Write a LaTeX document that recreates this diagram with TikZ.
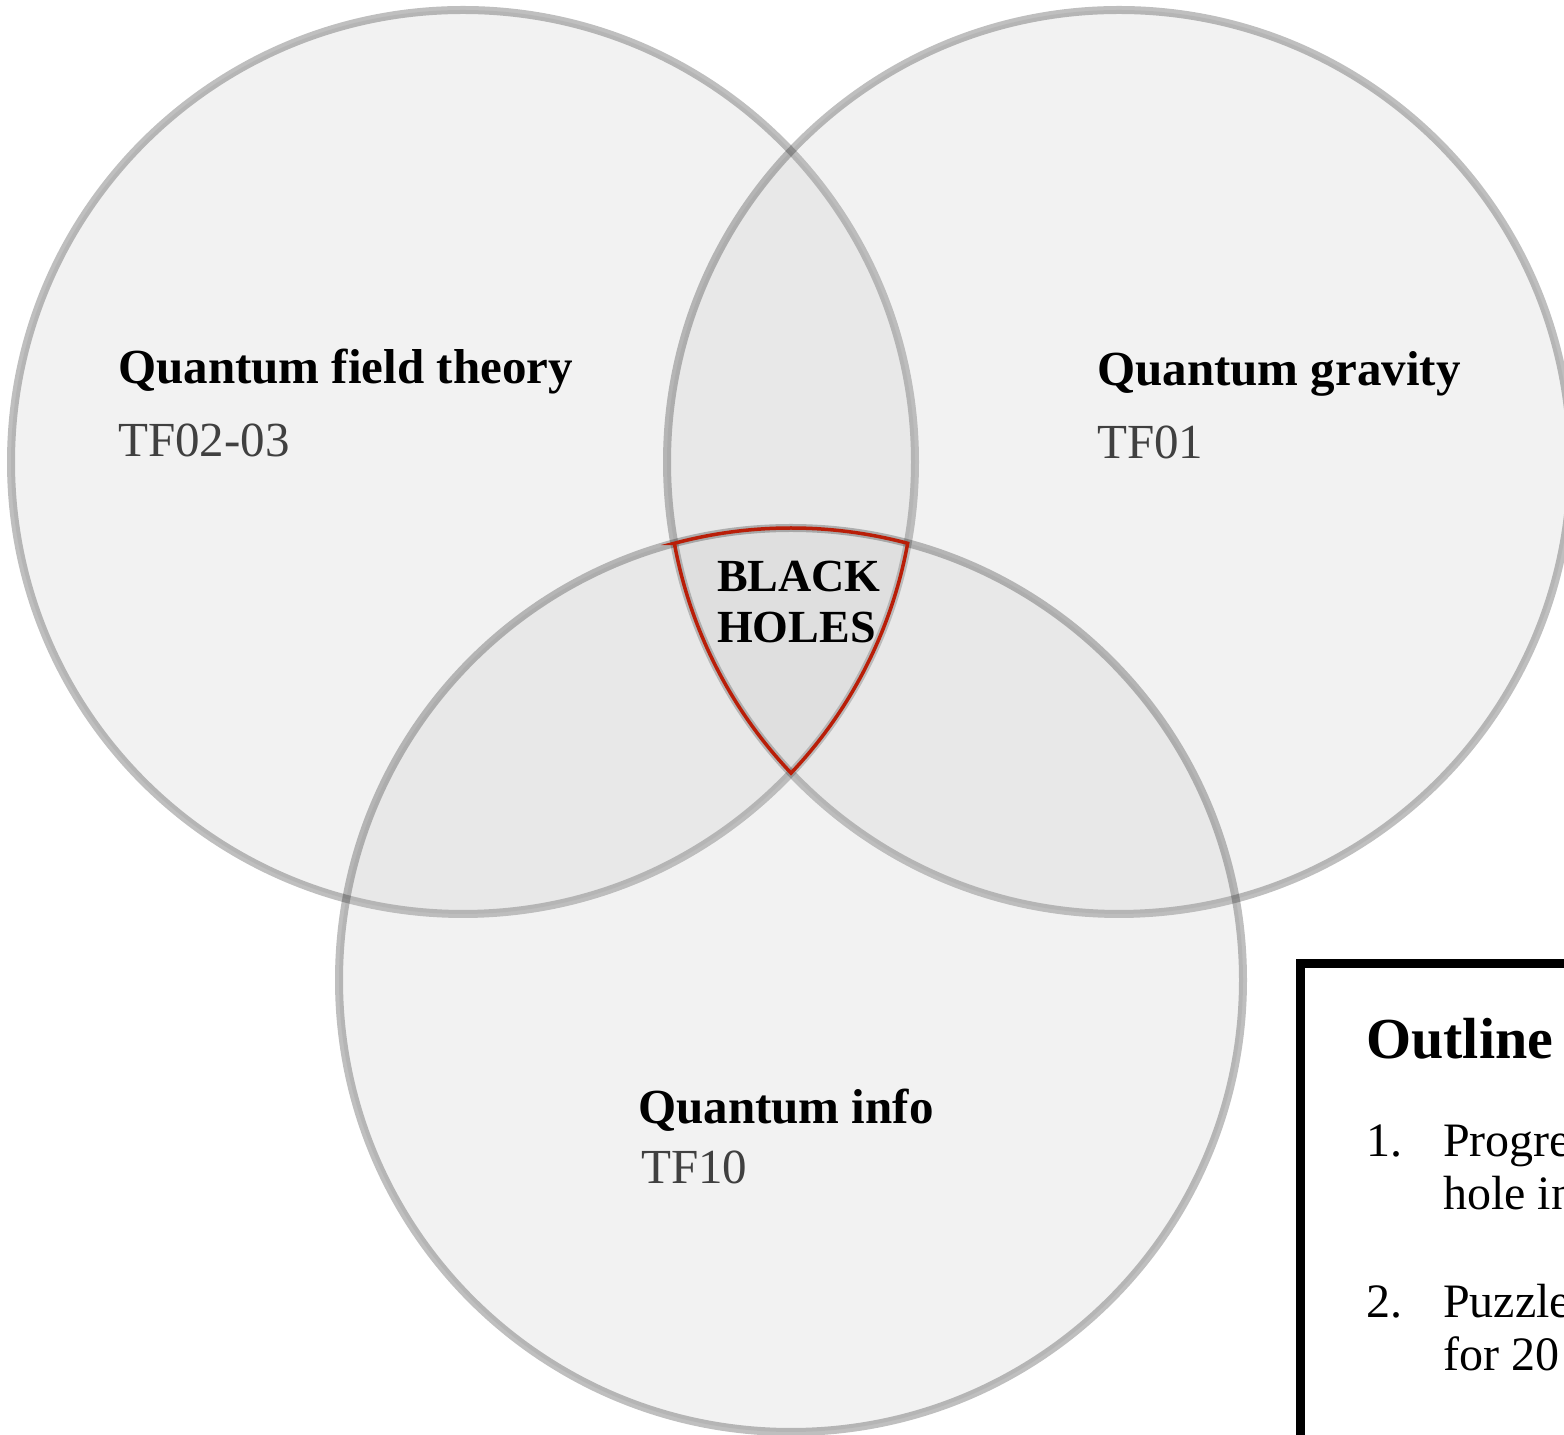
\documentclass[tikz,border=0pt]{standalone}
\usepackage{fontspec}
\setmainfont{Liberation Serif}
\definecolor{codegray}{RGB}{64,64,64}
\definecolor{bhred}{RGB}{185,30,8}
\definecolor{vennfill}{RGB}{183,183,183}
\begin{document}
\begin{tikzpicture}[x=1pt,y=1pt,
  venn/.style={circle, minimum size=904pt, inner sep=0pt, outer sep=0pt,
    draw=black, draw opacity=0.25, line width=8pt, fill=vennfill, fill opacity=0.17},
  title/.style={anchor=base west, inner sep=0pt, font=\fontsize{49}{58}\selectfont\bfseries},
  code/.style={anchor=base west, inner sep=0pt, text=codegray, font=\fontsize{49}{58}\selectfont},
  bh/.style={anchor=base west, inner sep=0pt, font=\fontsize{46}{52}\selectfont\bfseries},
  outhead/.style={anchor=base west, inner sep=0pt, font=\fontsize{58}{64}\selectfont\bfseries},
  item/.style={anchor=base west, inner sep=0pt, font=\fontsize{48}{54}\selectfont},
  redline/.style={draw=bhred, line width=3.5pt, line join=miter},
  outbox/.style={draw=black, line width=9pt, fill=white, outer sep=0pt}]
\useasboundingbox (0,0) rectangle (1564,1435);
\clip (0,0) rectangle (1564,1435);
\fill[white] (0,0) rectangle (1564,1435);
% circles
\node[venn] (qft) at (463,973) {};
\node[venn] (qg) at (1119,973) {};
\node[venn] (qi) at (791,455) {};
% black-hole region
\draw[redline] ([shift={(104.96:452)}]qi.center)
  arc[start angle=104.96, end angle=75.04, radius=452]
  arc[start angle=-10.36, end angle=-43.48, radius=452]
  arc[start angle=223.48, end angle=190.36, radius=452] -- cycle;
% labels
\node[title] (qftt) at (118,1051) {Quantum field theory};
\node[code] (qftc) at (118,978) {TF02-03};
\node[title] (qgt) at (1097,1049) {Quantum gravity};
\node[code] (qgc) at (1097,976) {TF01};
\node[title] (qit) at (638,311) {Quantum info};
\node[code] (qic) at (641,251) {TF10};
\node[bh] (bh1) at (717,843) {BLACK};
\node[bh] (bh2) at (717,792) {HOLES};
% outline box
\node[outbox, anchor=north west, minimum width=400pt, minimum height=600pt] (box) at (1300,471) {};
\node[outhead] (oh) at (1366,376) {Outline};
\node[item] (n1) at (1366,278) {1.};
\node[item] (i1a) at (1443,278) {Progre};
\node[item] (i1b) at (1443,225) {hole in};
\node[item] (n2) at (1366,117) {2.};
\node[item] (i2a) at (1443,117) {Puzzle};
\node[item] (i2b) at (1443,64) {for 20};
\end{tikzpicture}
\end{document}
